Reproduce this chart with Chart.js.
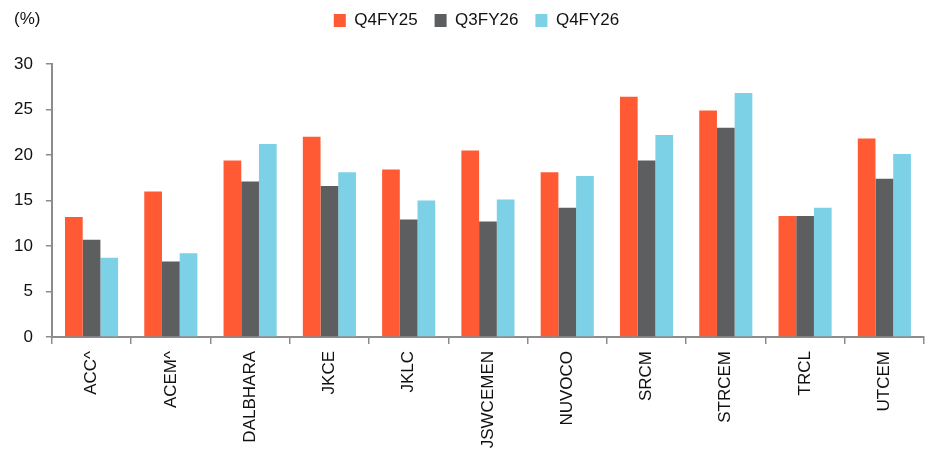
<!DOCTYPE html>
<html>
<head>
<meta charset="utf-8">
<script src="https://cdn.jsdelivr.net/npm/chart.js@4/dist/chart.umd.min.js"></script>
<style>
  html, body { margin: 0; padding: 0; background: #fff; }
  #wrap { width: 941px; height: 450px; }
</style>
</head>
<body>
<div id="wrap"><canvas id="marginChart"></canvas></div>
<script>
// data (%)
const companies = ["ACC^", "ACEM^", "DALBHARA", "JKCE", "JKLC", "JSWCEMEN", "NUVOCO", "SRCM", "STRCEM", "TRCL", "UTCEM"];
const q4fy25 = [13.2, 16.0, 19.4, 22.0, 18.4, 20.5, 18.1, 26.4, 24.9, 13.3, 21.8];
const q3fy26 = [10.7, 8.3, 17.1, 16.6, 12.9, 12.7, 14.2, 19.4, 23.0, 13.3, 17.4];
const q4fy26 = [8.7, 9.2, 21.2, 18.1, 15.0, 15.1, 17.7, 22.2, 26.8, 14.2, 20.1];
const yTicks = [0, 5, 10, 15, 20, 25, 30];

document.addEventListener("DOMContentLoaded", function() {
    const ctx = document.getElementById("marginChart").getContext("2d");
    const axisGrey = "#8c8c8c";
    Chart.defaults.font.family = "'Liberation Sans', Arial, sans-serif";
    Chart.defaults.font.size = 17;
    Chart.defaults.color = "#111";

    // "(%)" unit label above the y axis
    const unitLabel = {
        id: "unitLabel",
        afterDraw(chart) {
            const c = chart.ctx;
            c.save();
            c.font = "17px 'Liberation Sans', Arial, sans-serif";
            c.fillStyle = "#111";
            c.textAlign = "left";
            c.textBaseline = "middle";
            c.fillText("(%)", 14, 19);
            c.restore();
        }
    };

    // leave room under the legend and nudge it like the original
    const legendSpace = {
        id: "legendSpace",
        beforeInit(chart) {
            const fit = chart.legend.fit;
            chart.legend.fit = function() {
                fit.bind(chart.legend)();
                this.height = 62;
            };
        },
        afterLayout(chart) {
            const lg = chart.legend;
            lg.left += 14;
            lg.right += 14;
            lg.top -= 7;
        }
    };

    new Chart(ctx, {
        type: "bar",
        data: {
            labels: companies,
            datasets: [
                { label: "Q4FY25", data: q4fy25, backgroundColor: "#ff5a33" },
                { label: "Q3FY26", data: q3fy26, backgroundColor: "#5d5e60" },
                { label: "Q4FY26", data: q4fy26, backgroundColor: "#7dd1e6" }
            ]
        },
        options: {
            responsive: true,
            maintainAspectRatio: false,
            animation: false,
            layout: { padding: { left: 1, right: 17, top: 2, bottom: 0 } },
            datasets: {
                bar: { categoryPercentage: 0.67, barPercentage: 1.0, borderWidth: 0 }
            },
            plugins: {
                legend: {
                    position: "top",
                    labels: {
                        boxWidth: 12,
                        boxHeight: 13,
                        padding: 17,
                        font: { size: 17 }
                    }
                },
                tooltip: { enabled: false }
            },
            scales: {
                x: {
                    afterFit: function(axis) { axis.height = 113; },
                    grid: {
                        offset: true,
                        drawOnChartArea: false,
                        color: axisGrey,
                        tickLength: 7,
                        lineWidth: 1.5
                    },
                    border: { color: axisGrey, width: 2 },
                    ticks: {
                        minRotation: 90,
                        maxRotation: 90,
                        padding: 7,
                        font: { size: 17 }
                    }
                },
                y: {
                    min: 0,
                    max: 30,
                    afterBuildTicks: function(axis) {
                        axis.ticks = yTicks.map(v => ({ value: v }));
                    },
                    grid: {
                        drawOnChartArea: false,
                        color: axisGrey,
                        tickLength: 6,
                        lineWidth: 1.5
                    },
                    border: { color: axisGrey, width: 2 },
                    ticks: { padding: 13, font: { size: 17 } }
                }
            }
        },
        plugins: [unitLabel, legendSpace]
    });
});
</script>
</body>
</html>
